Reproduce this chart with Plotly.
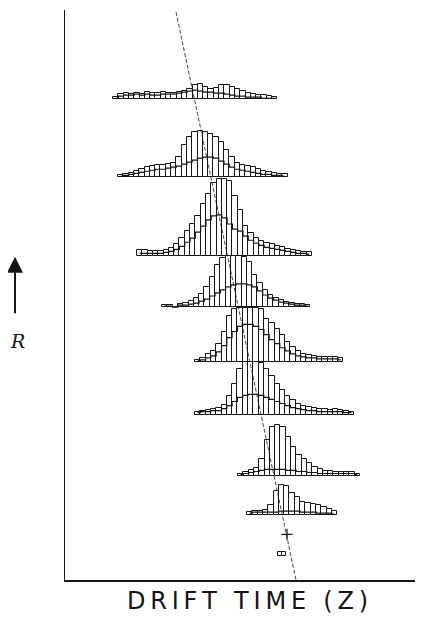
import plotly.graph_objects as go

# Drift-time histograms stacked by R (arbitrary units; x = drift time, y = R level)
BIN_W = 5.3

ROW_BASES = [474, 397, 319, 269, 215, 163, 103, 64]
ROW_STARTS = [48, 53, 72, 97, 130, 130, 173, 182]

ROW1_COUNTS = [2, 5, 6, 5, 6, 5, 7, 6, 6, 7, 6, 6, 7, 8, 10, 14, 15, 12, 10, 11, 14, 14, 12, 10, 8, 6, 5, 4, 4, 3, 2]
ROW1_MID = [1, 3, 4, 4, 5, 4, 5, 4, 4, 5, 5, 5, 6, 7, 8, 9, 8, 7, 7, 6, 6, 5, 4, 3, 3, 2, 2, 2, 1, 1, 1]

ROW2_COUNTS = [2, 3, 4, 6, 8, 10, 11, 12, 12, 13, 14, 20, 32, 40, 45, 46, 45, 43, 40, 35, 27, 20, 14, 12, 11, 10, 8, 6, 5, 4, 3, 3]
ROW2_MID = [1, 2, 3, 4, 5, 6, 7, 8, 8, 9, 10, 11, 13, 15, 17, 19, 20, 20, 19, 16, 13, 10, 8, 7, 6, 5, 4, 3, 3, 2, 2, 1]

ROW3_COUNTS = [6, 6, 5, 5, 5, 6, 8, 12, 18, 25, 32, 40, 52, 62, 72, 76, 76, 74, 60, 46, 30, 23, 18, 15, 13, 12, 10, 9, 7, 6, 5, 4, 4]
ROW3_MID = [3, 3, 3, 3, 3, 4, 5, 7, 10, 14, 18, 24, 30, 36, 40, 41, 38, 32, 27, 25, 20, 16, 13, 11, 9, 8, 7, 6, 5, 4, 3, 3, 2]

ROW4_COUNTS = [2, 2, 0, 3, 4, 6, 9, 13, 20, 30, 42, 48, 50, 50, 50, 49, 45, 32, 24, 17, 12, 9, 7, 5, 4, 3, 3, 2]
ROW4_MID = [1, 1, 0, 2, 2, 3, 4, 6, 8, 11, 14, 17, 20, 22, 23, 23, 22, 20, 16, 12, 9, 7, 5, 4, 3, 2, 2, 1]

ROW5_COUNTS = [2, 4, 8, 11, 18, 30, 45, 52, 53, 53, 53, 53, 52, 42, 38, 32, 27, 20, 15, 11, 8, 7, 6, 5, 5, 5, 5, 4]
ROW5_MID = [1, 2, 4, 6, 10, 16, 24, 30, 35, 37, 37, 35, 32, 27, 22, 18, 14, 11, 8, 6, 5, 4, 4, 3, 3, 3, 3, 2]

ROW6_COUNTS = [3, 4, 5, 6, 7, 10, 18, 30, 45, 52, 52, 52, 51, 45, 38, 30, 24, 18, 14, 11, 9, 8, 7, 6, 6, 5, 6, 5, 4, 3]
ROW6_MID = [2, 3, 3, 4, 4, 6, 9, 13, 17, 19, 20, 20, 19, 17, 15, 13, 11, 9, 7, 6, 5, 4, 4, 3, 3, 3, 3, 3, 2, 2]

ROW7_COUNTS = [2, 3, 5, 7, 16, 35, 48, 50, 48, 38, 28, 20, 16, 12, 8, 6, 4, 4, 3, 3, 3, 3, 2]
ROW7_MID = [1, 2, 3, 4, 5, 6, 6, 6, 6, 5, 5, 4, 4, 3, 3, 2, 2, 2, 2, 2, 2, 2, 1]

ROW8_COUNTS = [3, 4, 4, 5, 10, 24, 30, 29, 22, 18, 13, 12, 11, 10, 8, 6, 4]
ROW8_MID = [2, 3, 3, 3, 3, 3, 4, 4, 4, 4, 3, 3, 3, 2, 2, 2, 1]

ROW_COUNTS = [ROW1_COUNTS, ROW2_COUNTS, ROW3_COUNTS, ROW4_COUNTS,
              ROW5_COUNTS, ROW6_COUNTS, ROW7_COUNTS, ROW8_COUNTS]
ROW_MIDS = [ROW1_MID, ROW2_MID, ROW3_MID, ROW4_MID,
            ROW5_MID, ROW6_MID, ROW7_MID, ROW8_MID]

# isolated single counts near the bottom
LONE_BOX_X = [215, 219]
LONE_BOX_H = [4, 4]
LONE_BOX_BASE = 24
CROSS_X = [222]
CROSS_Y = [45]

# fitted drift line (time vs R)
FIT_X = [111, 231]
FIT_Y = [560, 0]

X_TITLE = "\u2009".join("DRIFT TIME (Z)")

INK = "#151515"

fig = go.Figure()

for base, start, counts, mids in zip(ROW_BASES, ROW_STARTS, ROW_COUNTS, ROW_MIDS):
    centers = [start + BIN_W * (i + 0.5) for i in range(len(counts))]
    fig.add_trace(go.Bar(
        x=centers, y=counts, base=base, width=BIN_W,
        marker=dict(color="white", line=dict(color=INK, width=1)),
        hoverinfo="skip", showlegend=False))
    fig.add_trace(go.Scatter(
        x=centers, y=[base + m for m in mids], mode="lines",
        line=dict(color=INK, width=1.2, shape="hvh"),
        hoverinfo="skip", showlegend=False))

fig.add_trace(go.Bar(
    x=LONE_BOX_X, y=LONE_BOX_H, base=LONE_BOX_BASE, width=4,
    marker=dict(color="white", line=dict(color=INK, width=1)),
    showlegend=False, hoverinfo="skip"))

fig.add_trace(go.Scatter(
    x=FIT_X, y=FIT_Y, mode="lines",
    line=dict(color=INK, width=0.8, dash="4px,2px"),
    showlegend=False, hoverinfo="skip"))

fig.add_trace(go.Scatter(
    x=CROSS_X, y=CROSS_Y, mode="markers",
    marker=dict(symbol="cross-thin", size=8, line=dict(color=INK, width=1.2)),
    showlegend=False, hoverinfo="skip"))

fig.update_layout(
    width=415, height=612,
    margin=dict(l=57, r=3, t=2, b=40),
    paper_bgcolor="white", plot_bgcolor="white",
    barmode="overlay", bargap=0,
    xaxis=dict(range=[0, 355], showgrid=False, zeroline=False, showticklabels=False,
               ticks="", showline=True, linecolor=INK, linewidth=1.5, fixedrange=True),
    yaxis=dict(range=[0, 562], showgrid=False, zeroline=False, showticklabels=False,
               ticks="", showline=True, linecolor=INK, linewidth=1.2, fixedrange=True),
    annotations=[
        dict(text=X_TITLE, xref="paper", yref="paper", x=0.5, y=0,
             xanchor="center", yanchor="top", yshift=-5, xshift=5, showarrow=False,
             font=dict(family="DejaVu Sans", size=24, color=INK)),
        dict(text="<i>R</i>", xref="paper", yref="paper", x=0, y=0.42,
             xanchor="center", yanchor="middle", xshift=-48, showarrow=False,
             font=dict(family="DejaVu Serif", size=19, color=INK)),
        dict(text="", xref="paper", yref="paper", x=0, y=0.567, xshift=-50,
             ax=0, ay=58, showarrow=True, arrowhead=2, arrowsize=1.6,
             arrowwidth=2, arrowcolor=INK),
    ],
)

fig.write_html("out.html")
